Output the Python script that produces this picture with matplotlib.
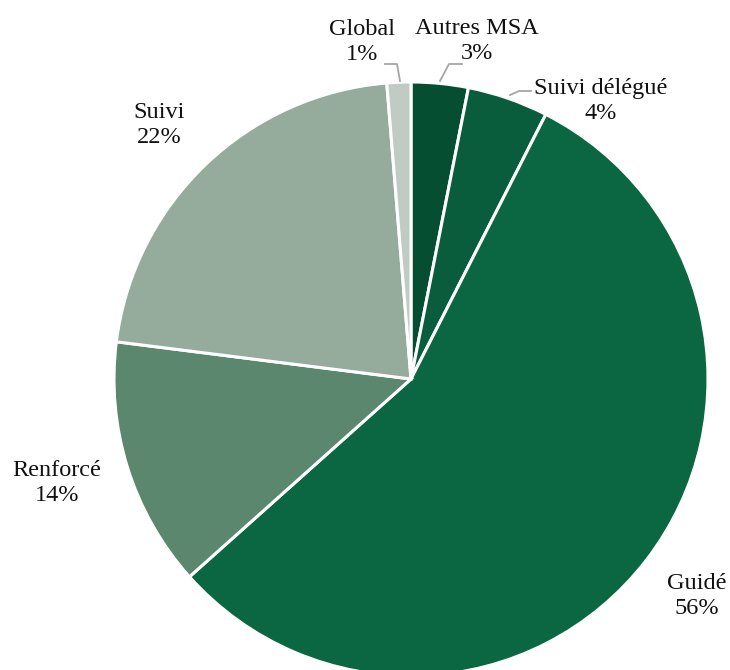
import matplotlib
matplotlib.use("Agg")
import matplotlib.pyplot as plt

categories = ['Autres MSA', 'Suivi délégué', 'Guidé', 'Renforcé', 'Suivi', 'Global']
shares = [3.1, 4.4, 55.9, 13.6, 21.7, 1.3]
shown_pct = ['3%', '4%', '56%', '14%', '22%', '1%']
colors = ['#064e31', '#0a5d3c', '#0b6741', '#5a876d', '#95ab9c', '#bfcbc3']

# where each label sits (pixel coords, y from top)
label_pos = [(477, 41), (601, 101), (697, 596), (57, 483), (159, 125), (362, 42)]

plt.rcParams['font.family'] = ['Liberation Serif', 'DejaVu Serif']

fig = plt.figure(figsize=(7.3, 6.7), dpi=100)
ax = fig.add_axes([0, 0, 1, 1])

H = 670
ax.pie(shares, colors=colors, startangle=90, counterclock=False,
       center=(411, H - 379), radius=297, frame=True,
       wedgeprops={'edgecolor': 'white', 'linewidth': 2.2})
ax.set_xlim(0, 730)
ax.set_ylim(0, 670)
ax.set_aspect('equal')
ax.axis('off')

for name, pct, (x, y) in zip(categories, shown_pct, label_pos):
    ax.text(x, H - y, name + '\n' + pct, ha='center', va='center',
            fontsize=17.5, linespacing=1.3, color='#111111')

# leader lines for the small slices
leaders = [
    [(385, 64), (397, 64), (400, 81)],
    [(440, 81), (449, 64), (462, 64)],
    [(510, 95), (519, 91), (531, 91)],
]
for pts in leaders:
    ax.plot([p[0] for p in pts], [H - p[1] for p in pts], color='#a6a6a6', lw=1.3)

fig.savefig('out.png', dpi=100)
